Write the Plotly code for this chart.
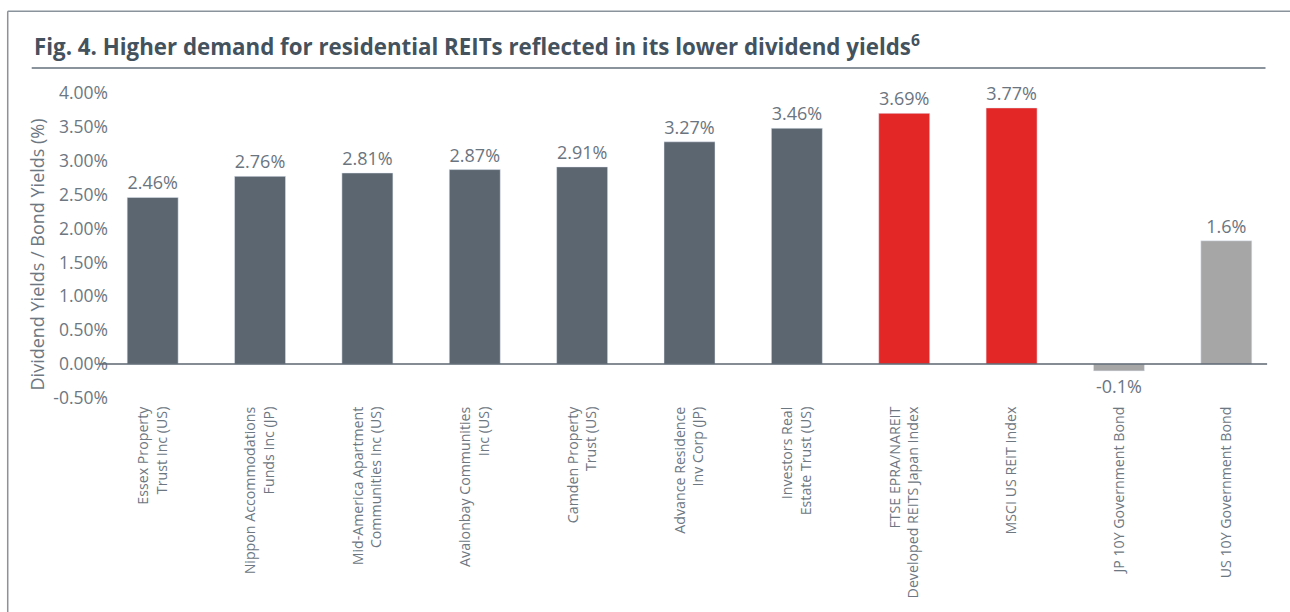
import plotly.graph_objects as go

categories = [
    "Essex Property<br>Trust Inc (US)",
    "Nippon Accommodations<br>Funds Inc (JP)",
    "Mid-America Apartment<br>Communities Inc (US)",
    "Avalonbay Communities<br>Inc (US)",
    "Camden Property<br>Trust (US)",
    "Advance Residence<br>Inv Corp (JP)",
    "Investors Real<br>Estate Trust (US)",
    "FTSE EPRA/NAREIT<br>Developed REITS Japan Index",
    "MSCI US REIT Index",
    "JP 10Y Government Bond",
    "US 10Y Government Bond",
]
bar_heights = [2.46, 2.77, 2.82, 2.87, 2.91, 3.28, 3.48, 3.70, 3.78, -0.10, 1.82]
value_labels = ["2.46%", "2.76%", "2.81%", "2.87%", "2.91%", "3.27%", "3.46%",
                "3.69%", "3.77%", "-0.1%", "1.6%"]
bar_colors = ["#5c6670"] * 7 + ["#e32726"] * 2 + ["#a6a6a6"] * 2
y_ticks = [-0.5, 0.0, 0.5, 1.0, 1.5, 2.0, 2.5, 3.0, 3.5, 4.0]
y_tick_labels = ["-0.50%", "0.00%", "0.50%", "1.00%", "1.50%", "2.00%",
                 "2.50%", "3.00%", "3.50%", "4.00%"]

title_text = "Fig. 4. Higher demand for residential REITs reflected in its lower dividend yields<sup>6</sup>"
y_title = "Dividend Yields / Bond Yields (%)"

W, H = 1290, 612
L, R = 99.3, 1280.5
T, B = 93, 398.5

def px(x):
    return (x - L) / (R - L)

def py(y):
    return (B - y) / (B - T)

fig = go.Figure(go.Bar(
    x=categories, y=bar_heights, marker_color=bar_colors,
    width=0.475, text=value_labels, textposition="outside",
    textfont=dict(size=18, color="#6b7580", family="Open Sans"),
    cliponaxis=False, hoverinfo="skip",
))

fig.update_layout(
    width=W, height=H, autosize=False,
    margin=dict(l=L, r=W - R, t=T, b=H - B, pad=0, autoexpand=False),
    paper_bgcolor="white", plot_bgcolor="white",
    showlegend=False,
    font=dict(family="Open Sans", color="#6b7580"),
)
fig.update_xaxes(
    tickangle=-90, showgrid=False, showline=False, zeroline=False,
    automargin=False,
    tickfont=dict(size=14.2, color="#6d7782", family="Open Sans"),
    ticks="outside", ticklen=2, tickcolor="rgba(0,0,0,0)",
    range=[-0.5, 10.5],
)
fig.update_yaxes(
    range=[-0.5, 4.0], tickvals=y_ticks, ticktext=y_tick_labels,
    showgrid=False, zeroline=False, showline=False, automargin=False,
    tickfont=dict(size=17.5, color="#6d7782", family="Open Sans"),
    ticks="", ticklabelstandoff=-10,
)

shapes = [
    # zero axis line
    dict(type="line", xref="x", yref="y", x0=-0.83, x1=10.38, y0=0, y1=0,
         line=dict(color="#5c6670", width=1.5), layer="above"),
    # title underline
    dict(type="line", xref="paper", yref="paper", x0=px(32), x1=px(1266),
         y0=py(68), y1=py(68), line=dict(color="#8a939b", width=2)),
    # frame left
    dict(type="line", xref="paper", yref="paper", x0=px(8), x1=px(8),
         y0=py(11), y1=py(615), line=dict(color="#8a939b", width=1.5)),
    # frame top
    dict(type="line", xref="paper", yref="paper", x0=px(8), x1=px(1292),
         y0=py(11), y1=py(11), line=dict(color="#8a939b", width=1.5)),
]
fig.update_layout(shapes=shapes)

fig.add_annotation(
    text="<b>" + title_text + "</b>", xref="paper", yref="paper",
    x=px(32), y=py(45), xanchor="left", yanchor="middle", showarrow=False,
    font=dict(size=22.3, color="#44525e", family="Open Sans"),
)
fig.add_annotation(
    text=y_title, xref="paper", yref="paper", x=px(37), y=py(255),
    xanchor="center", yanchor="middle", textangle=-90, showarrow=False,
    font=dict(size=18, color="#6d7782", family="Open Sans"),
)

fig.write_html("out.html")
